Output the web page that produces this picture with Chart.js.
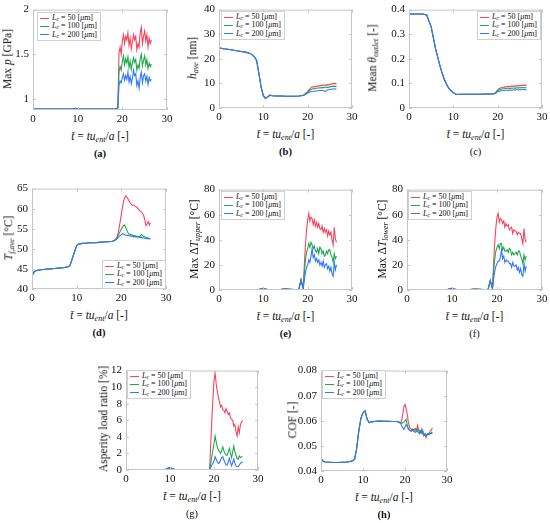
<!DOCTYPE html>
<html>
<head>
<meta charset="utf-8">
<script src="https://cdn.jsdelivr.net/npm/chart.js@4.4.0/dist/chart.umd.min.js"></script>
<style>
html, body { margin: 0; padding: 0; background: #fff; }
#fig { position: relative; width: 550px; height: 523px; overflow: hidden; font-family: 'Liberation Serif', serif; color: #111; }
#fig canvas { position: absolute; }
.lbl { position: absolute; white-space: nowrap; transform: translate(-50%, -50%); font-size: 11.5px; line-height: 1; }
.ylbl { transform: translate(-50%, -50%) rotate(-90deg); }
.cap { position: absolute; transform: translate(-50%, -50%); font-size: 10.5px; line-height: 1; }
.leg { position: absolute; background: #fff; border: 1px solid #d0d0d0; font-size: 8px; line-height: 8.4px; padding: 1px 3px 1px 2px; }
.leg div { white-space: nowrap; }
.leg span.sw { display: inline-block; width: 9px; height: 0; border-top: 1.2px solid; vertical-align: middle; margin-right: 3px; }
sub { font-size: 70%; vertical-align: -0.25em; line-height: 0; }
</style>
</head>
<body>
<div id="fig"></div>
<script>
// time axis: common part (all three cases overlap) and the diverging tail
const tEarly = [0,0.5,1,2,3,4,5,6,7,7.5,8,8.5,9,9.5,10,10.5,11,11.5,12,13,14,15,16,17,18,18.5];
const tTail = [19,19.25,19.5,19.75,20,20.25,20.5,20.75,21,21.25,21.5,21.75,22,22.25,22.5,22.75,23,23.25,23.5,23.75,24,24.25,24.5,24.75,25,25.25,25.5,25.75,26,26.25,26.5];
const xTicks = [0,10,20,30];

const lcSizes = [50,100,200];
const lcColors = ['#f5455f','#1faa4a','#2f78ff'];

// (a) Max p [GPa]
const aEarly = [0.885,0.885,0.885,0.885,0.885,0.885,0.885,0.885,0.885,0.885,0.885,0.885,0.887,0.893,0.886,0.885,0.885,0.885,0.885,0.885,0.885,0.885,0.885,0.885,0.885,0.886];
const aRed = [0.9,1.52,1.58,1.50,1.65,1.72,1.62,1.70,1.66,1.74,1.60,1.68,1.56,1.64,1.72,1.66,1.70,1.55,1.62,1.58,1.74,1.80,1.62,1.70,1.76,1.65,1.72,1.58,1.68,1.62,1.66];
const aGreen = [0.9,1.30,1.36,1.32,1.42,1.48,1.38,1.45,1.40,1.47,1.35,1.42,1.33,1.40,1.46,1.41,1.44,1.32,1.38,1.34,1.45,1.50,1.37,1.43,1.48,1.38,1.44,1.34,1.40,1.36,1.39];
const aBlue = [0.9,1.15,1.20,1.18,1.24,1.28,1.21,1.26,1.22,1.30,1.19,1.25,1.17,1.23,1.32,1.26,1.28,1.15,1.20,1.12,1.24,1.30,1.18,1.26,1.28,1.20,1.25,1.16,1.24,1.20,1.22];
const aTicks = [1,1.5,2];

// (b) h_ave [nm]
const bEarly = [24.5,24.3,24.1,23.9,23.6,23.3,23.0,22.7,22.2,21.6,20.8,19.2,14.0,8.5,5.0,3.9,4.6,5.2,5.0,4.9,4.9,4.8,4.8,4.8,4.9,5.0];
const bRed = [5.2,5.5,5.9,6.3,6.8,7.3,7.8,8.3,8.5,8.6,8.7,8.7,8.8,8.9,9.0,9.0,9.1,9.2,9.2,9.3,9.3,9.4,9.3,9.5,9.6,9.7,9.8,9.9,10.0,9.9,9.8];
const bGreen = [5.2,5.4,5.7,6.0,6.4,6.8,7.2,7.5,7.7,7.8,7.9,7.9,8.0,8.1,8.1,8.2,8.2,8.3,8.3,8.3,8.4,8.5,8.3,8.5,8.6,8.7,8.8,8.8,8.9,8.8,8.7];
const bBlue = [5.1,5.3,5.5,5.8,6.1,6.3,6.5,6.6,6.7,6.8,6.8,6.9,6.9,7.0,7.0,7.1,7.1,7.2,7.0,6.9,6.6,7.2,7.3,7.4,7.5,7.6,7.6,7.7,7.8,7.7,7.6];
const bTicks = [0,10,20,30,40];

// (c) mean theta_outlet [-]
const cEarly = [0.382,0.382,0.382,0.382,0.382,0.378,0.33,0.24,0.17,0.14,0.115,0.095,0.08,0.07,0.062,0.057,0.055,0.056,0.056,0.056,0.056,0.056,0.056,0.057,0.057,0.057];
const cRed = [0.058,0.058,0.062,0.068,0.074,0.078,0.080,0.082,0.083,0.084,0.085,0.086,0.087,0.087,0.088,0.087,0.089,0.088,0.089,0.090,0.089,0.090,0.091,0.090,0.092,0.091,0.092,0.093,0.092,0.093,0.092];
const cGreen = [0.058,0.058,0.061,0.065,0.070,0.073,0.075,0.076,0.077,0.078,0.078,0.079,0.079,0.080,0.080,0.079,0.081,0.080,0.081,0.081,0.080,0.082,0.082,0.081,0.083,0.082,0.083,0.083,0.082,0.083,0.082];
const cBlue = [0.058,0.058,0.060,0.063,0.066,0.068,0.069,0.070,0.070,0.071,0.071,0.072,0.072,0.072,0.073,0.072,0.073,0.072,0.073,0.074,0.073,0.074,0.074,0.073,0.075,0.074,0.075,0.075,0.074,0.075,0.074];
const cTicks = [0,0.1,0.2,0.3,0.4];

// (d) T_f,ave [C]
const dEarly = [43.3,44.3,44.6,44.8,44.9,45.0,45.1,45.2,45.3,45.4,45.5,45.8,47.5,49.2,50.8,51.2,51.3,51.4,51.4,51.5,51.5,51.6,51.7,51.8,51.9,52.1];
const dRed = [52.8,53.8,55.2,56.8,58.6,60.3,61.8,62.8,63.2,62.9,62.4,61.9,61.4,61.0,60.8,60.9,60.7,60.5,60.3,60.0,59.7,59.4,59.2,58.8,58.3,57.2,55.8,56.2,56.8,55.9,56.5];
const dGreen = [52.6,53.2,53.8,54.4,54.9,55.4,55.8,55.9,55.3,54.6,54.0,53.7,53.6,53.5,53.4,53.3,53.3,53.2,53.1,53.1,53.0,53.2,53.6,53.3,53.1,53.0,52.9,52.8,52.7,52.6,52.5];
const dBlue = [52.5,52.8,53.1,53.3,53.5,53.8,53.6,53.5,53.4,53.3,53.4,53.2,53.3,53.1,53.2,53.0,53.1,52.9,53.0,52.9,52.9,52.8,52.9,52.7,52.8,52.6,52.7,52.5,52.6,52.5,52.4];
const dTicks = [40,45,50,55,60,65];

// (e) Max dT_upper [C]
const eEarly = [0,0,0,0,0,0,0,0,0.1,0.1,0.1,0.2,0.3,1.0,1.4,0.8,0.3,0.2,0.2,0.2,0.5,0.9,0.6,0.3,0.3,8.0];
const eRed = [1,20,36,48,56,61,55,58,57,52,56,51,54,50,53,49,48,51,46,49,46,48,43,47,44,46,40,36,50,41,38];
const eGreen = [1,14,24,30,33,37,34,38,36,33,35,31,30,33,29,34,33,29,31,27,28,31,29,32,32,28,26,22,29,25,27];
const eBlue = [1,8,14,18,20,24,22,27,33,26,28,23,25,22,24,20,22,19,23,18,20,21,17,19,15,18,13,11,22,16,20];
const eTicks = [0,20,40,60,80];

// (f) Max dT_lower [C]
const fEarly = [0,0,0,0,0,0,0,0,0.1,0.1,0.1,0.2,0.3,0.9,1.3,0.7,0.3,0.2,0.2,0.2,0.4,0.8,0.6,0.3,0.3,7.5];
const fRed = [1,22,38,50,58,61,54,57,56,53,55,50,53,51,52,48,49,50,45,48,47,47,44,46,45,45,41,37,49,40,38];
const fGreen = [1,15,25,31,34,36,33,37,37,32,34,31,31,32,30,33,32,28,30,28,29,30,28,31,31,27,25,21,28,24,27];
const fBlue = [1,9,15,19,21,23,23,26,32,25,27,22,24,23,23,21,21,18,22,19,19,20,16,18,14,17,12,11,21,15,19];
const fTicks = [0,20,40,60,80];

// (g) asperity load ratio [%]
const gEarly = [0.02,0.02,0.02,0.02,0.02,0.02,0.02,0.02,0.02,0.02,0.03,0.05,0.1,0.2,0.25,0.18,0.08,0.05,0.05,0.05,0.05,0.05,0.05,0.05,0.05,0.05];
const gRed = [0.1,3,6,8.5,10.8,11.7,10.4,9.5,8.8,8.2,7.6,7.8,7.3,7.2,6.9,7.4,7.1,6.7,6.9,6.3,6.1,6.0,5.3,5.5,4.6,4.1,5.2,4.5,5.4,5.8,6.0];
const gGreen = [0.1,0.8,1.6,2.4,3.2,4.1,3.4,2.8,2.4,2.2,2.0,2.4,2.8,2.3,2.0,1.8,1.8,2.2,2.6,2.0,1.5,2.2,2.9,2.2,1.8,1.4,1.3,1.7,1.5,1.6,1.6];
const gBlue = [0.05,0.3,0.6,0.8,1.1,1.6,1.3,1.0,0.8,0.9,1.2,1.5,1.6,1.2,0.9,0.6,0.6,1.0,1.4,0.9,0.5,0.9,1.3,0.8,0.5,0.4,0.4,0.6,0.8,0.9,1.0];
const gTicks = [0,2,4,6,8,10,12];

// (h) COF [-]
const hEarly = [0.0449,0.0440,0.0436,0.0435,0.0434,0.0434,0.0435,0.0436,0.0438,0.0441,0.0447,0.0490,0.0560,0.0610,0.0632,0.0640,0.0605,0.0593,0.0595,0.0598,0.0599,0.0598,0.0598,0.0597,0.0597,0.0595];
const hRed = [0.0593,0.0605,0.0630,0.0655,0.0665,0.0650,0.0630,0.0600,0.0580,0.0570,0.0565,0.0568,0.0563,0.0567,0.0570,0.0562,0.0582,0.0565,0.0558,0.0562,0.0555,0.0560,0.0540,0.0548,0.0533,0.0545,0.0550,0.0548,0.0560,0.0562,0.0572];
const hGreen = [0.0592,0.0590,0.0592,0.0596,0.0600,0.0605,0.0588,0.0572,0.0565,0.0562,0.0560,0.0564,0.0560,0.0562,0.0565,0.0558,0.0568,0.0560,0.0552,0.0558,0.0550,0.0556,0.0545,0.0548,0.0540,0.0545,0.0550,0.0546,0.0552,0.0550,0.0556];
const hBlue = [0.0588,0.0578,0.0572,0.0566,0.0575,0.0584,0.0578,0.0568,0.0563,0.0560,0.0558,0.0562,0.0560,0.0556,0.0554,0.0560,0.0558,0.0552,0.0548,0.0556,0.0568,0.0548,0.0542,0.0545,0.0540,0.0543,0.0548,0.0545,0.0550,0.0548,0.0552];
const hTicks = [0.04,0.05,0.06,0.07,0.08];

const xTitle = '<i>t&#772;</i> = <i>tu</i><sub><i>ent</i></sub>/<i>a</i> [-]';

// layout of each panel: plot area [left, top, right, bottom], y-title x, legend [left, top]
const panels = [
    {cap:'(a)', bold:true,  early:aEarly, tails:[aRed,aGreen,aBlue], yMin:0.875, yMax:2,   yTicks:aTicks, area:[33,7,167,110],   yTitle:'Max <i>p</i> [GPa]', yTitleX:8,   leg:[37,12]},
    {cap:'(b)', bold:true,  early:bEarly, tails:[bRed,bGreen,bBlue], yMin:0,     yMax:40,  yTicks:bTicks, area:[219,7,352,108],  yTitle:'<i>h</i><sub><i>ave</i></sub> [nm]', yTitleX:193, leg:[221,11]},
    {cap:'(c)', bold:false, early:cEarly, tails:[cRed,cGreen,cBlue], yMin:0,     yMax:0.4, yTicks:cTicks, area:[409,7,542,108],  yTitle:'Mean <i>&theta;</i><sub><i>outlet</i></sub> [-]', yTitleX:373, leg:[477,11]},
    {cap:'(d)', bold:true,  early:dEarly, tails:[dRed,dGreen,dBlue], yMin:40,    yMax:65,  yTicks:dTicks, area:[32,186,166,289], yTitle:'<i>T</i><sub><i>f,ave</i></sub> [&deg;C]', yTitleX:9, leg:[102,260]},
    {cap:'(e)', bold:true,  early:eEarly, tails:[eRed,eGreen,eBlue], yMin:0,     yMax:80,  yTicks:eTicks, area:[219,187,352,290], yTitle:'Max &Delta;<i>T</i><sub><i>upper</i></sub> [&deg;C]', yTitleX:195, leg:[221,191]},
    {cap:'(f)', bold:false, early:fEarly, tails:[fRed,fGreen,fBlue], yMin:0,     yMax:80,  yTicks:fTicks, area:[407,187,542,290], yTitle:'Max &Delta;<i>T</i><sub><i>lower</i></sub> [&deg;C]', yTitleX:383, leg:[408,191]},
    {cap:'(g)', bold:false, early:gEarly, tails:[gRed,gGreen,gBlue], yMin:0,     yMax:12,  yTicks:gTicks, area:[126,368,258,470], yTitle:'Asperity load ratio [%]', yTitleX:104, leg:[127,370]},
    {cap:'(h)', bold:true,  early:hEarly, tails:[hRed,hGreen,hBlue], yMin:0.04,  yMax:0.08,yTicks:hTicks, area:[321,368,447,471], yTitle:'COF [-]', yTitleX:293, leg:[322,370]}
];

// light grey MATLAB style box with inward ticks on all four sides
const boxTicks = {
    id: 'boxTicks',
    afterDatasetsDraw(chart) {
        const {ctx, chartArea: a, scales: {x, y}} = chart;
        ctx.save();
        ctx.strokeStyle = '#c6c6c6';
        ctx.lineWidth = 1;
        ctx.strokeRect(a.left + 0.5, a.top + 0.5, a.right - a.left - 1, a.bottom - a.top - 1);
        ctx.beginPath();
        x.ticks.forEach(t => {
            const px = Math.round(x.getPixelForValue(t.value)) + 0.5;
            ctx.moveTo(px, a.bottom); ctx.lineTo(px, a.bottom - 3);
            ctx.moveTo(px, a.top); ctx.lineTo(px, a.top + 3);
        });
        y.ticks.forEach(t => {
            const py = Math.round(y.getPixelForValue(t.value)) + 0.5;
            ctx.moveTo(a.left, py); ctx.lineTo(a.left + 3, py);
            ctx.moveTo(a.right, py); ctx.lineTo(a.right - 3, py);
        });
        ctx.stroke();
        ctx.restore();
    }
};

const fig = document.getElementById('fig');
const fmt = v => String(+Number(v).toFixed(3));

const addDiv = (cls, html, left, top)=>{
    const d = document.createElement('div');
    d.className = cls;
    d.innerHTML = html;
    d.style.left = left + 'px';
    d.style.top = top + 'px';
    fig.appendChild(d);
    return d;
};

const makePanel = (p)=>{
    const padL = 34, padT = 8, padR = 10, padB = 18;
    const [L, T, R, B] = p.area;
    const cv = document.createElement('canvas');
    cv.width = R - L + padL + padR;
    cv.height = B - T + padT + padB;
    cv.style.left = (L - padL) + 'px';
    cv.style.top = (T - padT) + 'px';
    cv.style.width = cv.width + 'px';
    cv.style.height = cv.height + 'px';
    fig.appendChild(cv);

    // each series = shared early part + its own tail; blue drawn on top
    const datasets = p.tails.map((tail, k)=>({
        data: tEarly.map((t, i)=>({x: t, y: p.early[i]})).concat(tTail.map((t, i)=>({x: t, y: tail[i]}))),
        borderColor: lcColors[k],
        borderWidth: 1.1,
        pointRadius: 0,
        tension: 0,
        order: 3 - k
    }));

    const tickFont = {family: 'Liberation Serif', size: 11};

    new Chart(cv.getContext('2d'), {
        type: 'line',
        data: {datasets},
        plugins: [boxTicks],
        options: {
            responsive: false,
            animation: false,
            events: [],
            layout: {padding: {left: 0, top: padT, right: padR, bottom: 0}},
            plugins: {legend: {display: false}, tooltip: {enabled: false}},
            scales: {
                x: {
                    type: 'linear', min: 0, max: 30,
                    grid: {display: false, drawTicks: false}, border: {display: false},
                    afterBuildTicks: s => { s.ticks = xTicks.map(v=>({value: v})); },
                    afterFit: s => { s.height = padB; },
                    ticks: {font: tickFont, color: '#111', padding: 3, maxRotation: 0, callback: fmt}
                },
                y: {
                    type: 'linear', min: p.yMin, max: p.yMax,
                    grid: {display: false, drawTicks: false}, border: {display: false},
                    afterBuildTicks: s => { s.ticks = p.yTicks.map(v=>({value: v})); },
                    afterFit: s => { s.width = padL; },
                    ticks: {font: tickFont, color: '#111', padding: 4, callback: fmt}
                }
            }
        }
    });

    const cx = (L + R) / 2;
    addDiv('lbl ylbl', p.yTitle, p.yTitleX, (T + B) / 2);
    addDiv('lbl', xTitle, cx, B + 27);
    const c = addDiv('cap', p.cap, cx, B + 44);
    if (p.bold) c.style.fontWeight = 'bold';

    const leg = addDiv('leg', '', p.leg[0], p.leg[1]);
    lcSizes.forEach((s, k)=>{
        const row = document.createElement('div');
        row.innerHTML = '<span class="sw" style="border-color:' + lcColors[k] + '"></span><i>L</i><sub><i>c</i></sub> = ' + s + ' [<i>&mu;</i>m]';
        leg.appendChild(row);
    });
};

panels.forEach(makePanel);
</script>
</body>
</html>
